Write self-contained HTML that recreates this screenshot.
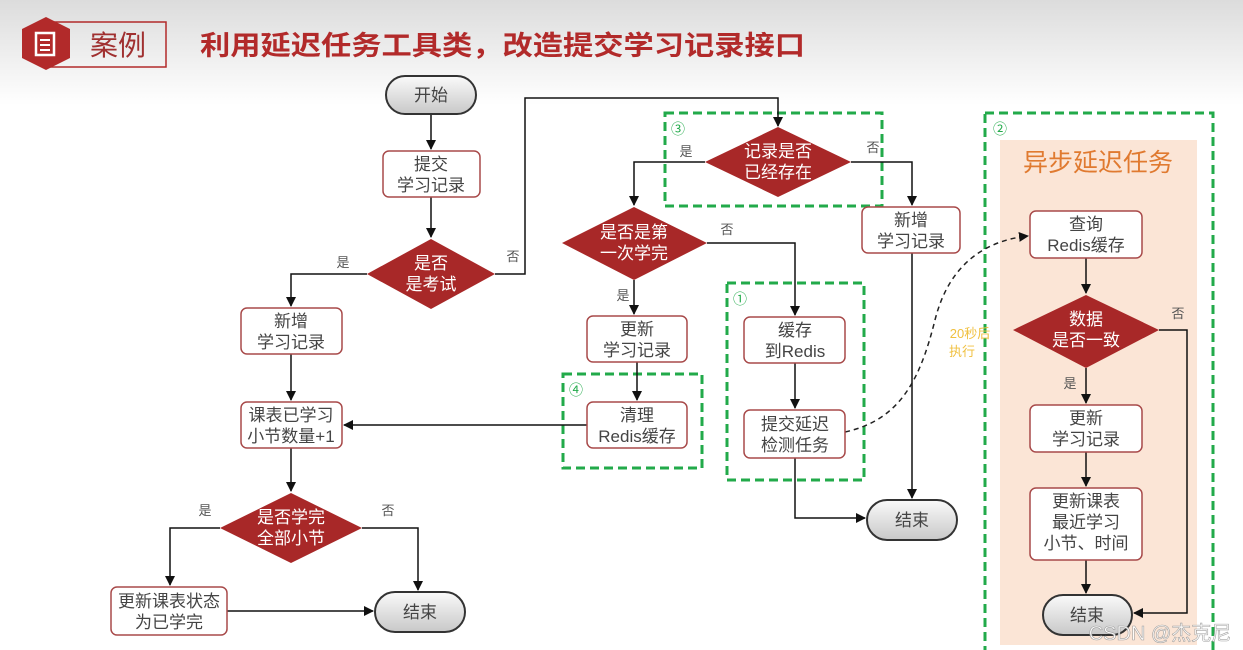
<!DOCTYPE html>
<html><head><meta charset="utf-8"><style>
html,body{margin:0;padding:0;width:1243px;height:650px;overflow:hidden;background:#fff}
svg{display:block}
text{font-family:"Liberation Sans","Noto Sans CJK SC",sans-serif}
.b{fill:#fff;stroke:#a84a4a;stroke-width:1.5}
.t{font-size:17px;fill:#444;text-anchor:middle}
.w{font-size:17px;fill:#fff;text-anchor:middle}
.l{font-size:13px;fill:#555;text-anchor:middle}
.ln{stroke:#111;stroke-width:1.5;fill:none}
.g{stroke:#22aa4a;stroke-width:3;fill:none;stroke-dasharray:9,5}
.d{fill:#a82828}
.p{fill:url(#pg);stroke:#333;stroke-width:2}
.n{font-size:14px;fill:#22aa4a}
</style></head><body>
<svg width="1243" height="650" viewBox="0 0 1243 650">
<defs>
<linearGradient id="bg" x1="0" y1="0" x2="0" y2="1"><stop offset="0" stop-color="#dcdcdc"/><stop offset="1" stop-color="#fff"/></linearGradient>
<linearGradient id="pg" x1="0" y1="0" x2="0" y2="1"><stop offset="0" stop-color="#fafafa"/><stop offset="1" stop-color="#c8c8c8"/></linearGradient>
<marker id="a" markerWidth="10" markerHeight="10" refX="9" refY="5" orient="auto" markerUnits="userSpaceOnUse"><path d="M0,0 L10,5 L0,10 z" fill="#111"/></marker>
</defs>
<rect x="0" y="0" width="1243" height="105" fill="url(#bg)"/>
<rect x="50" y="22" width="116" height="45" fill="none" stroke="#b22a2a" stroke-width="1.5"/>
<polygon points="46,17 70,29 70,58 46,70 22,58 22,29" fill="#b22a2a"/>
<rect x="36" y="33" width="18" height="22" fill="none" stroke="#fff" stroke-width="2.5"/>
<line x1="40" y1="40" x2="50" y2="40" stroke="#fff" stroke-width="2"/><line x1="40" y1="45" x2="50" y2="45" stroke="#fff" stroke-width="2"/><line x1="40" y1="50" x2="50" y2="50" stroke="#fff" stroke-width="2"/>
<text x="118" y="55" font-size="28" fill="#a03030" text-anchor="middle">案例</text>
<text x="200" y="55" font-size="27" font-weight="bold" fill="#b22a2a" textLength="605" lengthAdjust="spacingAndGlyphs">利用延迟任务工具类，改造提交学习记录接口</text>

<rect x="1000" y="140" width="197" height="505" fill="#fbe5d6"/>
<rect x="985" y="113" width="228" height="540" class="g"/>
<text x="993" y="134" class="n">②</text>
<text x="1098" y="171" font-size="25" fill="#e07a30" text-anchor="middle">异步延迟任务</text>

<rect x="665" y="113" width="217" height="93" class="g"/>
<text x="671" y="134" class="n">③</text>
<rect x="563" y="374" width="139" height="94" class="g"/>
<text x="569" y="395" class="n">④</text>
<rect x="727" y="283" width="137" height="197" class="g"/>
<text x="733" y="304" class="n">①</text>

<path class="ln" d="M431,114 V149" marker-end="url(#a)"/>
<path class="ln" d="M431,197 V237" marker-end="url(#a)"/>
<path class="ln" d="M495,274 H525 V98 H778 V126" marker-end="url(#a)"/>
<path class="ln" d="M367,274 H291 V306" marker-end="url(#a)"/>
<path class="ln" d="M291,354 V400" marker-end="url(#a)"/>
<path class="ln" d="M291,448 V491" marker-end="url(#a)"/>
<path class="ln" d="M220,528 H170 V585" marker-end="url(#a)"/>
<path class="ln" d="M362,528 H418 V590" marker-end="url(#a)"/>
<path class="ln" d="M227,611 H373" marker-end="url(#a)"/>
<path class="ln" d="M705,162 H634 V205" marker-end="url(#a)"/>
<path class="ln" d="M851,162 H912 V205" marker-end="url(#a)"/>
<path class="ln" d="M912,253 V498" marker-end="url(#a)"/>
<path class="ln" d="M707,243 H795 V315" marker-end="url(#a)"/>
<path class="ln" d="M634,280 V314" marker-end="url(#a)"/>
<path class="ln" d="M637,362 V400" marker-end="url(#a)"/>
<path class="ln" d="M587,425 H344" marker-end="url(#a)"/>
<path class="ln" d="M795,363 V408" marker-end="url(#a)"/>
<path class="ln" d="M795,458 V518 H865" marker-end="url(#a)"/>
<path d="M845,432 C900,420 920,380 935,320 C950,260 990,240 1028,236" stroke="#222" stroke-width="1.5" fill="none" stroke-dasharray="5,4" marker-end="url(#a)"/>
<text x="970" y="338" font-size="13" fill="#f0c040" text-anchor="middle">20秒后</text>
<text x="962" y="356" font-size="13" fill="#f0c040" text-anchor="middle">执行</text>
<path class="ln" d="M1086,258 V293" marker-end="url(#a)"/>
<path class="ln" d="M1086,368 V403" marker-end="url(#a)"/>
<path class="ln" d="M1086,452 V486" marker-end="url(#a)"/>
<path class="ln" d="M1086,560 V593" marker-end="url(#a)"/>
<path class="ln" d="M1159,330 H1187 V613 H1134" marker-end="url(#a)"/>

<text x="343" y="267" class="l">是</text>
<text x="513" y="261" class="l">否</text>
<text x="205" y="515" class="l">是</text>
<text x="388" y="515" class="l">否</text>
<text x="686" y="156" class="l">是</text>
<text x="873" y="152" class="l">否</text>
<text x="727" y="234" class="l">否</text>
<text x="623" y="300" class="l">是</text>
<text x="1178" y="318" class="l">否</text>
<text x="1070" y="388" class="l">是</text>

<rect x="386" y="76" width="90" height="38" rx="19" class="p"/><text x="431" y="101" class="t">开始</text>
<rect x="375" y="592" width="90" height="40" rx="20" class="p"/><text x="420" y="618" class="t">结束</text>
<rect x="867" y="500" width="90" height="40" rx="20" class="p"/><text x="912" y="526" class="t">结束</text>
<rect x="1043" y="595" width="89" height="40" rx="20" class="p"/><text x="1087" y="621" class="t">结束</text>

<rect x="383" y="151" width="97" height="46" rx="6" class="b"/><text x="431" y="170" class="t">提交</text><text x="431" y="191" class="t">学习记录</text>
<rect x="241" y="308" width="101" height="46" rx="6" class="b"/><text x="291" y="327" class="t">新增</text><text x="291" y="348" class="t">学习记录</text>
<rect x="241" y="402" width="101" height="46" rx="6" class="b"/><text x="291" y="421" class="t">课表已学习</text><text x="291" y="442" class="t">小节数量+1</text>
<rect x="111" y="587" width="116" height="48" rx="6" class="b"/><text x="169" y="607" class="t">更新课表状态</text><text x="169" y="628" class="t">为已学完</text>
<rect x="862" y="207" width="98" height="46" rx="6" class="b"/><text x="911" y="226" class="t">新增</text><text x="911" y="247" class="t">学习记录</text>
<rect x="587" y="316" width="100" height="46" rx="6" class="b"/><text x="637" y="335" class="t">更新</text><text x="637" y="356" class="t">学习记录</text>
<rect x="587" y="402" width="100" height="46" rx="6" class="b"/><text x="637" y="421" class="t">清理</text><text x="637" y="442" class="t">Redis缓存</text>
<rect x="744" y="317" width="101" height="46" rx="6" class="b"/><text x="795" y="336" class="t">缓存</text><text x="795" y="357" class="t">到Redis</text>
<rect x="744" y="410" width="101" height="48" rx="6" class="b"/><text x="795" y="430" class="t">提交延迟</text><text x="795" y="451" class="t">检测任务</text>
<rect x="1030" y="211" width="112" height="47" rx="6" class="b"/><text x="1086" y="230" class="t">查询</text><text x="1086" y="251" class="t">Redis缓存</text>
<rect x="1030" y="405" width="112" height="47" rx="6" class="b"/><text x="1086" y="424" class="t">更新</text><text x="1086" y="445" class="t">学习记录</text>
<rect x="1030" y="488" width="112" height="72" rx="6" class="b"/><text x="1086" y="507" class="t">更新课表</text><text x="1086" y="528" class="t">最近学习</text><text x="1086" y="549" class="t">小节、时间</text>

<polygon class="d" points="431,239 495,274 431,309 367,274"/><text x="431" y="269" class="w">是否</text><text x="431" y="290" class="w">是考试</text>
<polygon class="d" points="291,493 362,528 291,563 220,528"/><text x="291" y="523" class="w">是否学完</text><text x="291" y="544" class="w">全部小节</text>
<polygon class="d" points="778,127 851,162 778,197 705,162"/><text x="778" y="157" class="w">记录是否</text><text x="778" y="178" class="w">已经存在</text>
<polygon class="d" points="634,207 707,243 634,280 562,243"/><text x="634" y="238" class="w">是否是第</text><text x="634" y="259" class="w">一次学完</text>
<polygon class="d" points="1086,295 1159,330 1086,368 1013,330"/><text x="1086" y="325" class="w">数据</text><text x="1086" y="346" class="w">是否一致</text>

<text x="1160" y="640" font-size="20" fill="#fff" stroke="#999" stroke-width="0.6" text-anchor="middle" opacity="0.9">CSDN @杰克尼</text>
</svg>
</body></html>
